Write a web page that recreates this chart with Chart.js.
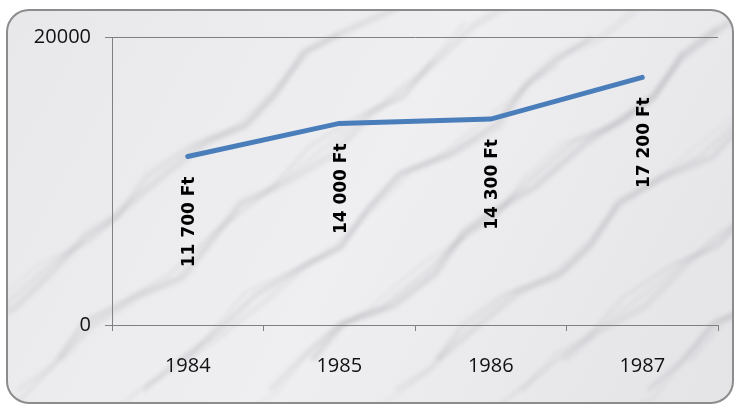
<!DOCTYPE html>
<html>
<head>
<meta charset="utf-8">
<script src="https://cdn.jsdelivr.net/npm/chart.js@4/dist/chart.umd.min.js"></script>
<style>
  html, body { margin: 0; padding: 0; background: #fff; }
  #wrap { width: 740px; height: 407px; position: relative; }
</style>
</head>
<body>
<div id="wrap"><canvas id="myChart" width="740" height="407"></canvas></div>
<script>
// data
const years = ['1984', '1985', '1986', '1987'];
const prices = [11700, 14000, 14300, 17200];
const yTicks = [0, 20000];

const ctx = document.getElementById('myChart').getContext('2d');

// rounded frame with a light marble-ish fill
const framePlugin = {
  id: 'frame',
  beforeDraw(chart) {
    const c = chart.ctx;
    const x = 7, y = 10, w = 726, h = 393, r = 22;
    c.save();
    c.beginPath();
    c.roundRect(x, y, w, h, r);
    const g = c.createLinearGradient(0, y, w, y + h);
    g.addColorStop(0, '#e8e8eb');
    g.addColorStop(0.5, '#efeff1');
    g.addColorStop(1, '#e4e4e7');
    c.fillStyle = g;
    c.fill();
    c.clip();
    // soft veins
    c.filter = 'blur(2px)';
    for (let i = 0; i < 22; i++) {
      const sx = -150 + i * 42;
      const sy = 420 - (i % 3) * 30;
      c.beginPath();
      c.moveTo(sx, sy);
      for (let t = 1; t <= 12; t++) {
        c.lineTo(sx + t * 38 + Math.sin(t * 1.3 + i * 2.1) * 10, sy - t * 30 + Math.cos(t * 1.9 + i * 1.3) * 8);
      }
      c.strokeStyle = 'rgba(120,120,130,' + (0.07 + (i % 4) * 0.03) + ')';
      c.lineWidth = 2 + (i % 3) * 2;
      c.stroke();
    }
    c.filter = 'none';
    c.restore();
    c.save();
    c.beginPath();
    c.roundRect(x, y, w, h, r);
    c.strokeStyle = '#8c8c8c';
    c.lineWidth = 2;
    c.stroke();
    c.restore();
  }
};

// rotated value labels under each point
const labelPlugin = {
  id: 'vlabels',
  afterDatasetsDraw(chart) {
    const c = chart.ctx;
    const meta = chart.getDatasetMeta(0);
    c.save();
    c.font = 'bold 17px "DejaVu Sans"';
    c.fillStyle = '#000';
    c.textAlign = 'right';
    c.textBaseline = 'middle';
    meta.data.forEach((pt, i) => {
      const txt = prices[i].toLocaleString('fr-FR').replace(/\s/g, ' ') + ' Ft';
      c.save();
      c.translate(pt.x + 2, pt.y);
      c.rotate(-Math.PI / 2);
      c.fillText(txt, -20, 0);
      c.restore();
    });
    c.restore();
  }
};

const chart = new Chart(ctx, {
  type: 'line',
  data: {
    labels: years,
    datasets: [{
      data: prices,
      borderColor: '#4a7ebb',
      borderWidth: 5,
      borderCapStyle: 'round',
      pointRadius: 0,
      fill: false,
      tension: 0
    }]
  },
  options: {
    responsive: false,
    animation: false,
    layout: { padding: { left: 0, right: 22, top: 37, bottom: 0 } },
    plugins: { legend: { display: false }, tooltip: { enabled: false } },
    scales: {
      x: {
        offset: true,
        grid: {
          offset: true,
          drawOnChartArea: false,
          tickLength: 6,
          color: '#808080'
        },
        border: { color: '#808080' },
        ticks: {
          color: '#111',
          font: { family: 'Open Sans', size: 20 },
          padding: 23
        },
        afterFit(s) { s.height = 82; }
      },
      y: {
        min: 0,
        max: 20000,
        afterBuildTicks(s) { s.ticks = yTicks.map(v => ({ value: v })); },
        grid: {
          color: '#808080',
          tickLength: 7
        },
        border: { color: '#808080' },
        ticks: {
          color: '#111',
          font: { family: 'Open Sans', size: 20 },
          padding: 14,
          callback: v => String(v)
        },
        afterFit(s) { s.width = 112; }
      }
    }
  },
  plugins: [framePlugin, labelPlugin]
});
</script>
</body>
</html>
